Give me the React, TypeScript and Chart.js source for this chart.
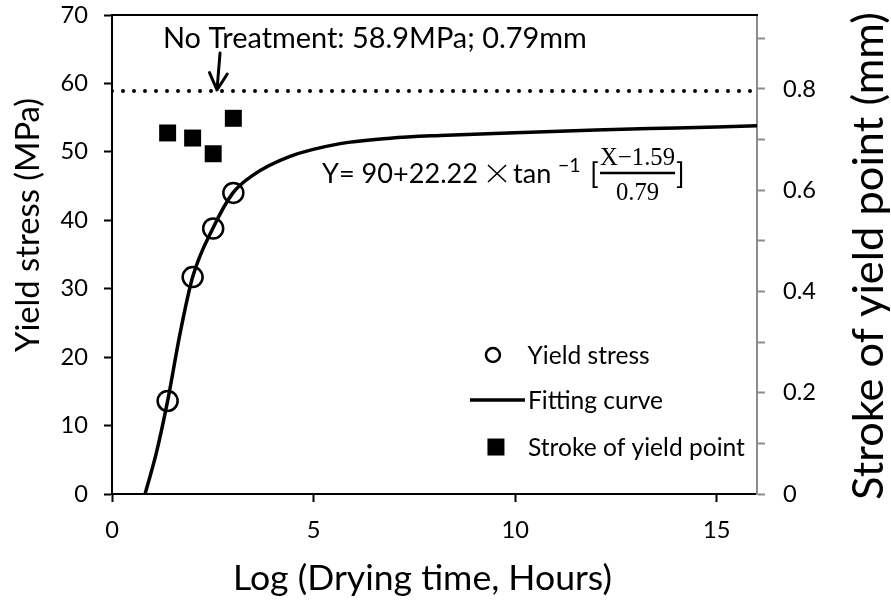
import React, { useEffect, useRef } from "react";
import { Chart, registerables } from "chart.js";

Chart.register(...registerables);

// ---------------- data ----------------
const dryingTimeLog = [1.38, 2.0, 2.51, 3.01];
const yieldStressMPa = [13.6, 31.7, 38.8, 44.0];
const strokeYieldMm = [0.713, 0.703, 0.672, 0.742];

const fitCurveX = [0.82, 1.1, 1.38, 1.69, 2.0, 2.5, 3.0, 3.5, 4.4, 5.66, 6.9, 8.14, 10, 12, 14, 16];
const fitCurveY = [0, 6.0, 13.6, 23.5, 31.7, 38.8, 44.0, 46.6, 49.3, 51.2, 52.0, 52.4, 52.8, 53.2, 53.5, 53.8];

const noTreatmentX = [0, 16];
const noTreatmentStress = [58.9, 58.9];

const xTickValues = [0, 5, 10, 15];
const xTickLabels = ["0", "5", "10", "15"];
const leftTickValues = [0, 10, 20, 30, 40, 50, 60, 70];
const leftTickLabels = ["0", "10", "20", "30", "40", "50", "60", "70"];
const rightTickValues = [0, 0.1, 0.2, 0.3, 0.4, 0.5, 0.6, 0.7, 0.8, 0.9];
const rightTickLabels = ["0", "", "0.2", "", "0.4", "", "0.6", "", "0.8", ""];

const seriesLabels = ["Yield stress", "Fitting curve", "Stroke of yield point"];
const annotationText = "No Treatment: 58.9MPa; 0.79mm";
const formulaLead = "Y= 90+22.22";
const formulaFn = "tan";
const formulaSup = "−1";
const formulaNum = "X−1.59";
const formulaDen = "0.79";
const xTitle = "Log (Drying time, Hours)";
const leftTitle = "Yield stress (MPa)";
const rightTitle = "Stroke of yield point (mm)";

// ---------------- style ----------------
const SANS = "Lato, 'Liberation Sans', sans-serif";
const SERIF = "'Liberation Serif', 'DejaVu Serif', serif";
const CAP = 0.7165;

function fit(text: string, family: string, target: number): number {
  const c = document.createElement("canvas").getContext("2d") as CanvasRenderingContext2D;
  c.font = `100px ${family}`;
  const w = c.measureText(text).width || 100;
  return (100 * target) / w;
}

function noScalePadding(s: any) {
  s.paddingTop = 0;
  s.paddingBottom = 0;
  s.paddingLeft = 0;
  s.paddingRight = 0;
}

const overlayPlugin = {
  id: "overlay",
  afterDraw(chart: any, _args: any, o: any) {
    const { ctx, chartArea: ca, scales } = chart;
    const X = (v: number) => scales.x.getPixelForValue(v);
    const Y = (v: number) => scales.y.getPixelForValue(v);
    ctx.save();

    // top frame line
    ctx.strokeStyle = "#000";
    ctx.lineWidth = 2;
    ctx.beginPath();
    ctx.moveTo(ca.left, ca.top);
    ctx.lineTo(ca.right + 1, ca.top);
    ctx.stroke();

    ctx.fillStyle = "#000";
    ctx.textBaseline = "alphabetic";

    // annotation text
    ctx.font = `${o.annot}px ${SANS}`;
    ctx.textAlign = "left";
    ctx.fillText(annotationText, X(1.265), Y(65.18));

    // arrow
    const tx = X(2.68), ty = Y(64.45), hx = X(2.605), hy = Y(59.04);
    ctx.lineWidth = 3;
    ctx.lineCap = "round";
    ctx.lineJoin = "round";
    ctx.beginPath();
    ctx.moveTo(tx, ty);
    ctx.lineTo(hx, hy);
    const ang = Math.atan2(ty - hy, tx - hx);
    const hl = 19, spread = (28 * Math.PI) / 180;
    ctx.moveTo(hx + hl * Math.cos(ang + spread), hy + hl * Math.sin(ang + spread));
    ctx.lineTo(hx, hy);
    ctx.lineTo(hx + hl * Math.cos(ang - spread), hy + hl * Math.sin(ang - spread));
    ctx.stroke();

    // formula
    const fx = X(5.21), fy = Y(45.45);
    ctx.font = `${o.formula}px ${SANS}`;
    ctx.textAlign = "left";
    ctx.fillText(formulaLead, fx, fy);
    ctx.lineWidth = 1.6;
    ctx.lineCap = "butt";
    ctx.beginPath();
    ctx.moveTo(fx + 166, fy - 18);
    ctx.lineTo(fx + 184, fy - 1);
    ctx.moveTo(fx + 184, fy - 18);
    ctx.lineTo(fx + 166, fy - 1);
    ctx.stroke();
    ctx.fillText(formulaFn, fx + 191, fy);
    ctx.font = `${o.formula * 0.72}px ${SANS}`;
    ctx.fillText(formulaSup, fx + 236, fy - 11);
    ctx.font = `${o.formula * 1.05}px ${SANS}`;
    ctx.fillText("[", fx + 268, fy + 1);
    ctx.fillText("]", fx + 354, fy + 1);
    ctx.font = `${o.frac}px ${SERIF}`;
    ctx.textAlign = "center";
    ctx.fillText(formulaNum, fx + 315.5, fy - 18);
    ctx.fillText(formulaDen, fx + 315.5, fy + 17);
    ctx.lineWidth = 2.5;
    ctx.beginPath();
    ctx.moveTo(fx + 278, fy - 10);
    ctx.lineTo(fx + 353, fy - 10);
    ctx.stroke();

    // legend
    const lx = X(9.45), ly = Y(20.31);
    const rows = [0, 45, 92];
    const capL = o.legend * CAP;
    ctx.font = `${o.legend}px ${SANS}`;
    ctx.textAlign = "left";
    const ds = chart.data.datasets;
    ctx.lineWidth = 2.5;
    ctx.beginPath();
    ctx.arc(lx, ly + rows[0], 7, 0, Math.PI * 2);
    ctx.stroke();
    ctx.fillText(ds[0].label, lx + 34.5, ly + rows[0] + capL / 2);
    ctx.lineWidth = 3.5;
    ctx.beginPath();
    ctx.moveTo(lx - 23, ly + rows[1]);
    ctx.lineTo(lx + 32, ly + rows[1]);
    ctx.stroke();
    ctx.fillText(ds[1].label, lx + 35, ly + rows[1] + capL / 2);
    ctx.fillRect(lx + 3 - 8.5, ly + rows[2] - 8.5, 17, 17);
    ctx.fillText(ds[2].label, lx + 35, ly + rows[2] + capL / 2);

    // axis titles
    ctx.font = `${o.xTitle}px ${SANS}`;
    ctx.textAlign = "center";
    ctx.fillText(xTitle, (ca.left + ca.right) / 2 - 12, ca.bottom + 96);

    ctx.save();
    ctx.translate(38.5, (ca.top + ca.bottom) / 2 - 29.5);
    ctx.rotate(-Math.PI / 2);
    ctx.font = `${o.leftTitle}px ${SANS}`;
    ctx.fillText(leftTitle, 0, 0);
    ctx.restore();

    ctx.save();
    ctx.translate(852 + o.rightTitle * CAP, (ca.top + ca.bottom) / 2 + 1.5);
    ctx.rotate(-Math.PI / 2);
    ctx.font = `${o.rightTitle}px ${SANS}`;
    ctx.fillText(rightTitle, 0, 0);
    ctx.restore();

    ctx.restore();
  },
};

export default function App() {
  const ref = useRef<HTMLCanvasElement | null>(null);

  useEffect(() => {
    const canvas = ref.current;
    if (!canvas) return;

    const tickSize = fit("0.8", SANS, 33);
    const sizes = {
      annot: fit(annotationText, SANS, 424),
      formula: fit(formulaLead, SANS, 156),
      frac: fit(formulaNum, SERIF, 75),
      legend: fit(seriesLabels[2], SANS, 217),
      xTitle: fit(xTitle, SANS, 379),
      leftTitle: fit(leftTitle, SANS, 254),
      rightTitle: fit(rightTitle, SANS, 488),
    };
    const tickFont = { family: SANS, size: tickSize, lineHeight: 1.2 };

    const chart = new Chart(canvas, {
      type: "scatter",
      data: {
        datasets: [
          {
            type: "scatter",
            label: seriesLabels[0],
            data: dryingTimeLog.map((x, i) => ({ x, y: yieldStressMPa[i] })),
            yAxisID: "y",
            pointStyle: "circle",
            pointRadius: 10,
            pointBorderWidth: 2.5,
            pointBorderColor: "#000",
            pointBackgroundColor: "rgba(0,0,0,0)",
            showLine: false,
            order: 2,
          },
          {
            type: "line",
            label: seriesLabels[1],
            data: fitCurveX.map((x, i) => ({ x, y: fitCurveY[i] })),
            yAxisID: "y",
            borderColor: "#000",
            borderWidth: 3.5,
            pointRadius: 0,
            cubicInterpolationMode: "monotone",
            fill: false,
            order: 1,
          },
          {
            type: "scatter",
            label: seriesLabels[2],
            data: dryingTimeLog.map((x, i) => ({ x, y: strokeYieldMm[i] })),
            yAxisID: "y2",
            pointStyle: "rect",
            pointRadius: 12,
            pointBorderWidth: 0,
            pointBackgroundColor: "#000",
            pointBorderColor: "#000",
            showLine: false,
            order: 3,
          },
          {
            type: "line",
            label: "No Treatment",
            data: noTreatmentX.map((x, i) => ({ x, y: noTreatmentStress[i] })),
            yAxisID: "y",
            borderColor: "#000",
            borderWidth: 4,
            borderDash: [0, 11],
            borderCapStyle: "round",
            pointRadius: 0,
            fill: false,
            order: 4,
          },
        ] as any,
      },
      options: {
        responsive: false,
        animation: false,
        events: [],
        layout: { padding: { top: 15, left: 0, right: 0, bottom: 0 } },
        plugins: {
          legend: { display: false },
          tooltip: { enabled: false },
          overlay: sizes,
        } as any,
        scales: {
          x: {
            type: "linear",
            position: "bottom",
            min: 0,
            max: 16,
            afterBuildTicks: (s: any) => {
              s.ticks = xTickValues.map((v) => ({ value: v }));
            },
            afterFit: (s: any) => {
              s.height = 108;
              noScalePadding(s);
            },
            grid: { drawOnChartArea: false, drawTicks: true, tickLength: 8, tickColor: "#000", tickWidth: 2 },
            border: { display: true, color: "#000", width: 2 },
            ticks: {
              autoSkip: false,
              maxRotation: 0,
              color: "#000",
              font: tickFont,
              padding: 14,
              callback: (_v: any, i: number) => xTickLabels[i],
            },
          },
          y: {
            type: "linear",
            position: "left",
            min: 0,
            max: 70,
            afterBuildTicks: (s: any) => {
              s.ticks = leftTickValues.map((v) => ({ value: v }));
            },
            afterFit: (s: any) => {
              s.width = 112;
              noScalePadding(s);
            },
            grid: { drawOnChartArea: false, drawTicks: true, tickLength: 8, tickColor: "#000", tickWidth: 2 },
            border: { display: true, color: "#000", width: 2 },
            ticks: {
              autoSkip: false,
              color: "#000",
              font: tickFont,
              padding: 16,
              callback: (_v: any, i: number) => leftTickLabels[i],
            },
          },
          y2: {
            type: "linear",
            position: "right",
            min: 0,
            max: 0.946,
            afterBuildTicks: (s: any) => {
              s.ticks = rightTickValues.map((v) => ({ value: v }));
            },
            afterFit: (s: any) => {
              s.width = 134;
              noScalePadding(s);
            },
            grid: { drawOnChartArea: false, drawTicks: true, tickLength: 8, tickColor: "#8c8c8c", tickWidth: 2 },
            border: { display: true, color: "#8c8c8c", width: 2 },
            ticks: {
              autoSkip: false,
              color: "#000",
              font: tickFont,
              padding: 18,
              callback: (_v: any, i: number) => rightTickLabels[i],
            },
          },
        },
      } as any,
      plugins: [overlayPlugin as any],
    });

    return () => chart.destroy();
  }, []);

  return (
    <div style={{ position: "fixed", left: 0, top: 0, width: 891, height: 602, background: "#fff" }}>
      <canvas ref={ref} width={891} height={602} style={{ display: "block", width: 891, height: 602 }} />
    </div>
  );
}
